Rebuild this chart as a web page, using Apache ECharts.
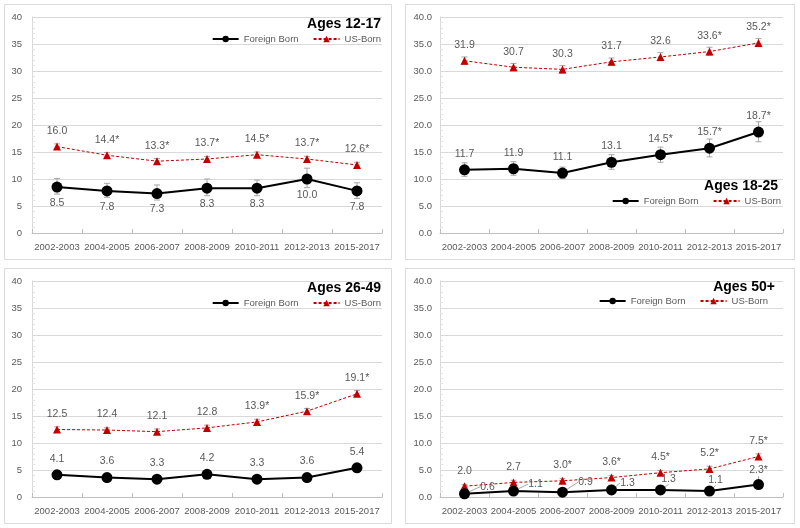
<!DOCTYPE html>
<html>
<head>
<meta charset="utf-8">
<script src="https://cdn.jsdelivr.net/npm/echarts@6/dist/echarts.min.js"></script>
<style>
html,body{margin:0;padding:0;background:#fff;}
#chart{width:800px;height:528px;}
</style>
</head>
<body>
<div id="chart"></div>
<script>
// ---- Data ----
const categories = ['2002-2003','2004-2005','2006-2007','2008-2009','2010-2011','2012-2013','2015-2017'];
const panelTitles = ['Ages 12-17','Ages 18-25','Ages 26-49','Ages 50+'];

// Ages 12-17
const fb1 = [8.5, 7.8, 7.3, 8.3, 8.3, 10.0, 7.8];
const fb1Low = [7.2, 6.6, 6.1, 6.9, 6.9, 8.4, 6.4];
const fb1High = [10.1, 9.2, 8.9, 10.0, 9.8, 12.0, 9.3];
const fb1Sig = [0,0,0,0,0,0,0];
const us1 = [16.0, 14.4, 13.3, 13.7, 14.5, 13.7, 12.6];
const us1Low = [15.6, 14.0, 12.9, 13.2, 14.0, 13.2, 12.1];
const us1High = [16.5, 14.9, 13.8, 14.2, 15.0, 14.2, 13.1];
const us1Sig = [0,1,1,1,1,1,1];

// Ages 18-25
const fb2 = [11.7, 11.9, 11.1, 13.1, 14.5, 15.7, 18.7];
const fb2Low = [10.5, 10.7, 10.1, 11.8, 13.1, 14.1, 16.9];
const fb2High = [13.0, 13.2, 12.2, 14.5, 15.9, 17.4, 20.6];
const fb2Sig = [0,0,0,0,1,1,1];
const us2 = [31.9, 30.7, 30.3, 31.7, 32.6, 33.6, 35.2];
const us2Low = [31.2, 30.0, 29.6, 31.0, 31.9, 32.9, 34.5];
const us2High = [32.6, 31.4, 31.0, 32.4, 33.4, 34.4, 36.0];
const us2Sig = [0,0,0,0,0,1,1];

// Ages 26-49
const fb3 = [4.1, 3.6, 3.3, 4.2, 3.3, 3.6, 5.4];
const fb3Low = [3.6, 3.2, 2.9, 3.6, 2.9, 3.1, 4.8];
const fb3High = [4.6, 4.1, 3.8, 4.9, 3.8, 4.2, 6.0];
const fb3Sig = [0,0,0,0,0,0,0];
const us3 = [12.5, 12.4, 12.1, 12.8, 13.9, 15.9, 19.1];
const us3Low = [12.1, 12.0, 11.7, 12.3, 13.4, 15.4, 18.6];
const us3High = [13.0, 12.8, 12.6, 13.3, 14.4, 16.4, 19.7];
const us3Sig = [0,0,0,0,1,1,1];

// Ages 50+
const fb4 = [0.6, 1.1, 0.9, 1.3, 1.3, 1.1, 2.3];
const fb4Low = [0.3, 0.6, 0.5, 0.7, 0.8, 0.6, 1.7];
const fb4High = [1.0, 1.7, 1.4, 2.2, 2.0, 1.9, 3.1];
const fb4Sig = [0,0,0,0,0,0,1];
const us4 = [2.0, 2.7, 3.0, 3.6, 4.5, 5.2, 7.5];
const us4Low = [1.7, 2.4, 2.6, 3.2, 4.1, 4.8, 7.0];
const us4High = [2.3, 3.1, 3.4, 4.0, 4.9, 5.7, 8.0];
const us4Sig = [0,0,1,1,1,1,1];

const yTicks = {min: 0, max: 40, interval: 5};

// ---- Layout / style ----
const FONT = 'Liberation Sans';
const TXT = '#595959';
const LABEL_SIZE = 10.5;
const grids = [
  {left: 32, top: 17, width: 350, height: 216},
  {left: 440, top: 17, width: 343, height: 216},
  {left: 32, top: 281, width: 350, height: 216},
  {left: 440, top: 281, width: 343, height: 216}
];
const yDecimals = [false, true, false, true];
const titlePos = [
  {right: 419, top: 17},
  {right: 22, top: 179},
  {right: 419, top: 281},
  {right: 25, top: 280}
];
const legendPos = [
  {right: 419, top: 34},
  {right: 19, top: 196},
  {right: 419, top: 298},
  {right: 32, top: 296}
];
const fbLabelPos = ['bottom', 'top', 'top', 'callout'];
// callout label shifts (pixels, relative to the point) for the Ages 50+ foreign-born labels
const calloutShift = [[23, -7], [22, -7], [23, -10], [16, -7], [8, -11], [6, -11], [0, -14]];

const panels = [
  {fb: fb1, fbLow: fb1Low, fbHigh: fb1High, fbSig: fb1Sig, us: us1, usLow: us1Low, usHigh: us1High, usSig: us1Sig},
  {fb: fb2, fbLow: fb2Low, fbHigh: fb2High, fbSig: fb2Sig, us: us2, usLow: us2Low, usHigh: us2High, usSig: us2Sig},
  {fb: fb3, fbLow: fb3Low, fbHigh: fb3High, fbSig: fb3Sig, us: us3, usLow: us3Low, usHigh: us3High, usSig: us3Sig},
  {fb: fb4, fbLow: fb4Low, fbHigh: fb4High, fbSig: fb4Sig, us: us4, usLow: us4Low, usHigh: us4High, usSig: us4Sig}
];

function errRender(params, api) {
  const x = api.value(0);
  const lo = api.coord([x, api.value(1)]);
  const hi = api.coord([x, api.value(2)]);
  const w = 3;
  const style = {stroke: '#a6a6a6', lineWidth: 1};
  return {
    type: 'group',
    children: [
      {type: 'line', shape: {x1: lo[0], y1: lo[1], x2: hi[0], y2: hi[1]}, style: style},
      {type: 'line', shape: {x1: lo[0] - w, y1: lo[1], x2: lo[0] + w, y2: lo[1]}, style: style},
      {type: 'line', shape: {x1: hi[0] - w, y1: hi[1], x2: hi[0] + w, y2: hi[1]}, style: style}
    ]
  };
}

const xAxes = [], yAxes = [], series = [], titles = [], legends = [];
panels.forEach((p, i) => {
  xAxes.push({
    type: 'category', gridIndex: i, data: categories, boundaryGap: true,
    axisLine: {lineStyle: {color: '#bfbfbf'}},
    axisTick: {show: true, inside: true, length: 4, lineStyle: {color: '#bfbfbf'}},
    axisLabel: {color: TXT, fontSize: 9.5, fontFamily: FONT, interval: 0, margin: 9},
    splitLine: {show: false}
  });
  yAxes.push({
    type: 'value', gridIndex: i, min: yTicks.min, max: yTicks.max, interval: yTicks.interval,
    axisLine: {show: true, lineStyle: {color: '#d9d9d9'}},
    axisTick: {show: false, inside: true},
    minorTick: {show: true, splitNumber: 5, length: 3, lineStyle: {color: '#e3e3e3'}},
    splitLine: {lineStyle: {color: '#d9d9d9'}},
    axisLabel: {
      color: TXT, fontSize: 9.5, fontFamily: FONT, margin: yDecimals[i] ? 8 : 10,
      formatter: yDecimals[i] ? (v => v.toFixed(1)) : (v => String(v))
    }
  });
  titles.push({
    text: panelTitles[i], right: titlePos[i].right, top: titlePos[i].top, padding: 0,
    textStyle: {fontFamily: FONT, fontSize: 14, fontWeight: 'bold', color: '#000'}
  });
  legends.push({
    data: ['Foreign Born', 'US-Born'], right: legendPos[i].right, top: legendPos[i].top,
    padding: 0, itemWidth: 26, itemHeight: 8, itemGap: 14, selectedMode: false,
    textStyle: {color: TXT, fontSize: 9.5, fontFamily: FONT}
  });
  series.push({
    type: 'custom', name: 'fbErr', xAxisIndex: i, yAxisIndex: i, renderItem: errRender, z: 1,
    data: categories.map((c, j) => [j, p.fbLow[j], p.fbHigh[j]]), silent: true
  });
  series.push({
    type: 'custom', name: 'usErr', xAxisIndex: i, yAxisIndex: i, renderItem: errRender, z: 1,
    data: categories.map((c, j) => [j, p.usLow[j], p.usHigh[j]]), silent: true
  });
  const callout = fbLabelPos[i] === 'callout';
  const fbSeries = {
    type: 'line', name: 'Foreign Born', xAxisIndex: i, yAxisIndex: i, z: 3,
    data: p.fb, symbol: 'circle', symbolSize: 11,
    itemStyle: {color: '#000'}, lineStyle: {color: '#000', width: 2},
    label: {
      show: true, position: callout ? 'inside' : fbLabelPos[i], distance: 5,
      color: TXT, fontSize: LABEL_SIZE, fontFamily: FONT,
      formatter: (prm) => prm.value.toFixed(1) + (p.fbSig[prm.dataIndex] ? '*' : '')
    }
  };
  if (callout) {
    fbSeries.labelLayout = (prm) => ({dx: calloutShift[prm.dataIndex][0], dy: calloutShift[prm.dataIndex][1]});
    fbSeries.labelLine = {show: true, length2: 0, lineStyle: {color: '#a6a6a6', width: 1}};
  }
  series.push(fbSeries);
  series.push({
    type: 'line', name: 'US-Born', xAxisIndex: i, yAxisIndex: i, z: 2,
    data: p.us, symbol: 'triangle', symbolSize: 8,
    itemStyle: {color: '#c00000'}, lineStyle: {color: '#c00000', width: 1, type: [3, 2]},
    label: {
      show: true, position: 'top', distance: 6,
      color: TXT, fontSize: LABEL_SIZE, fontFamily: FONT,
      formatter: (prm) => prm.value.toFixed(1) + (p.usSig[prm.dataIndex] ? '*' : '')
    }
  });
});

const chart = echarts.init(document.getElementById('chart'), null, {renderer: 'canvas'});
chart.setOption({
  backgroundColor: '#fff',
  animation: false,
  textStyle: {fontFamily: FONT},
  title: titles,
  legend: legends,
  grid: grids,
  xAxis: xAxes,
  yAxis: yAxes,
  series: series,
  graphic: [
    {type: 'rect', shape: {x: 4.5, y: 4.5, width: 387, height: 255}, style: {fill: 'none', stroke: '#d9d9d9', lineWidth: 1}, silent: true},
    {type: 'rect', shape: {x: 405.5, y: 4.5, width: 389, height: 255}, style: {fill: 'none', stroke: '#d9d9d9', lineWidth: 1}, silent: true},
    {type: 'rect', shape: {x: 4.5, y: 268.5, width: 387, height: 255}, style: {fill: 'none', stroke: '#d9d9d9', lineWidth: 1}, silent: true},
    {type: 'rect', shape: {x: 405.5, y: 268.5, width: 389, height: 255}, style: {fill: 'none', stroke: '#d9d9d9', lineWidth: 1}, silent: true}
  ]
});
</script>
</body>
</html>
